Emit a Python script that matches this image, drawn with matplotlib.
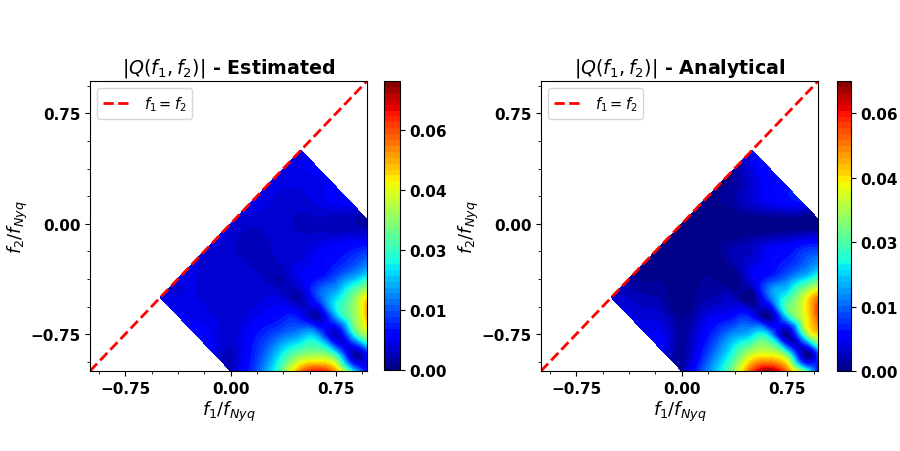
import numpy as np
import matplotlib
matplotlib.use("Agg")
import matplotlib.pyplot as plt
import matplotlib.tri as mtri
from matplotlib.ticker import MultipleLocator, FuncFormatter

# ---- data ----
# grid rows of f2 (normalised by Nyquist); each row lists |Q| for f1 values from
# max(f2, -1-f2) to min(1, 1-f2) in steps of 0.125
f2_rows = [-1.0, -0.875, -0.75, -0.625, -0.5, -0.375, -0.25, -0.125,
           0.0, 0.125, 0.25, 0.375, 0.5]
grid_step = 0.125

estimated_rows = [
    [0.004, 0.010, 0.020, 0.035, 0.056, 0.063, 0.052, 0.024, 0.003],
    [0.007, 0.004, 0.009, 0.016, 0.026, 0.034, 0.036, 0.024, 0.003, 0.018],
    [0.008, 0.007, 0.005, 0.008, 0.012, 0.016, 0.020, 0.018, 0.004, 0.026, 0.042],
    [0.008, 0.007, 0.006, 0.005, 0.006, 0.008, 0.010, 0.008, 0.003, 0.021, 0.037, 0.057],
    [0.007, 0.006, 0.006, 0.005, 0.005, 0.005, 0.006, 0.005, 0.003, 0.014, 0.024, 0.036, 0.051],
    [0.006, 0.006, 0.005, 0.005, 0.005, 0.004, 0.003, 0.007, 0.010, 0.015, 0.022, 0.030],
    [0.006, 0.005, 0.005, 0.004, 0.003, 0.005, 0.006, 0.008, 0.010, 0.013, 0.018],
    [0.006, 0.005, 0.003, 0.004, 0.005, 0.005, 0.006, 0.007, 0.008, 0.009],
    [0.006, 0.005, 0.005, 0.005, 0.004, 0.004, 0.003, 0.003, 0.002],
    [0.006, 0.006, 0.005, 0.005, 0.006, 0.007, 0.007],
    [0.006, 0.006, 0.006, 0.007, 0.008],
    [0.006, 0.007, 0.008],
    [0.007],
]

analytical_rows = [
    [0.002, 0.012, 0.022, 0.036, 0.056, 0.066, 0.052, 0.030, 0.000],
    [0.006, 0.002, 0.008, 0.017, 0.027, 0.038, 0.040, 0.026, 0.001, 0.025],
    [0.007, 0.006, 0.002, 0.006, 0.012, 0.018, 0.022, 0.020, 0.001, 0.030, 0.046],
    [0.006, 0.005, 0.004, 0.001, 0.004, 0.007, 0.009, 0.008, 0.001, 0.024, 0.042, 0.062],
    [0.004, 0.004, 0.003, 0.002, 0.000, 0.002, 0.003, 0.003, 0.000, 0.015, 0.027, 0.041, 0.055],
    [0.002, 0.001, 0.001, 0.000, 0.001, 0.001, 0.000, 0.006, 0.011, 0.016, 0.023, 0.032],
    [0.000, 0.000, 0.000, 0.000, 0.000, 0.003, 0.005, 0.008, 0.010, 0.014, 0.018],
    [0.000, 0.000, 0.000, 0.001, 0.002, 0.003, 0.005, 0.006, 0.008, 0.009],
    [0.000, 0.000, 0.000, 0.000, 0.000, 0.000, 0.000, 0.000, 0.000],
    [0.000, 0.001, 0.002, 0.004, 0.006, 0.007, 0.007],
    [0.001, 0.002, 0.005, 0.008, 0.009],
    [0.002, 0.006, 0.009],
    [0.007],
]

titles = [r"$|Q(f_1, f_2)|$ - Estimated", r"$|Q(f_1, f_2)|$ - Analytical"]
axis_ticks = [-0.75, 0.0, 0.75]
cbar_ticks = [0.0, 0.015, 0.03, 0.045, 0.06]
cbar_max = [0.0722, 0.0675]


def build_points(rows):
    xs, ys, zs = [], [], []
    for f2, vals in zip(f2_rows, rows):
        start = max(f2, -1.0 - f2)
        for k, v in enumerate(vals):
            xs.append(start + k * grid_step)
            ys.append(f2)
            zs.append(v)
    return np.array(xs), np.array(ys), np.array(zs)


def fmt(v, p):
    return ("%.2f" % v).replace("-", "\u2212")


TICK_FS = 11

fig = plt.figure(figsize=(9.0, 4.52), dpi=100)
ax_pos = [[0.1, 0.177, 0.3078, 0.6416], [0.6011, 0.177, 0.3081, 0.6416]]
cb_pos = [[0.4272, 0.179, 0.0167, 0.6394], [0.9297, 0.177, 0.0156, 0.6416]]

for i, rows in enumerate([estimated_rows, analytical_rows]):
    ax = fig.add_axes(ax_pos[i])
    cax = fig.add_axes(cb_pos[i])
    x, y, z = build_points(rows)
    tri = mtri.Triangulation(x, y)
    refiner = mtri.UniformTriRefiner(tri)
    tri_f, z_f = refiner.refine_field(z, subdiv=3)
    levels = np.linspace(0, cbar_max[i], 50)
    cf = ax.tricontourf(tri_f, np.clip(z_f, 0, cbar_max[i]), levels=levels, cmap="jet")
    ax.plot([-1, 1], [-1, 1], "r--", lw=2, label=r"$f_1 = f_2$")
    ax.set_xlim(-1.0, 0.97)
    ax.set_ylim(-1.0, 0.97)
    ax.set_xticks(axis_ticks)
    ax.set_yticks(axis_ticks)
    ax.xaxis.set_minor_locator(MultipleLocator(0.1875))
    ax.yaxis.set_minor_locator(MultipleLocator(0.1875))
    ax.xaxis.set_major_formatter(FuncFormatter(fmt))
    ax.yaxis.set_major_formatter(FuncFormatter(fmt))
    for lab in ax.get_xticklabels() + ax.get_yticklabels():
        lab.set_fontweight("bold")
        lab.set_fontsize(TICK_FS)
    ax.set_xlabel(r"$f_1/f_{Nyq}$", fontsize=13, labelpad=2)
    ax.set_ylabel(r"$f_2/f_{Nyq}$", fontsize=13, labelpad=0)
    ax.set_title(titles[i], fontsize=13.7, fontweight="bold")
    ax.legend(loc="upper left", fontsize=10.5)

    cb = fig.colorbar(cf, cax=cax)
    cb.set_ticks(cbar_ticks)
    cb.ax.yaxis.set_major_formatter(FuncFormatter(fmt))
    for lab in cb.ax.get_yticklabels():
        lab.set_fontweight("bold")
        lab.set_fontsize(TICK_FS)

fig.savefig("out.png", dpi=100)
